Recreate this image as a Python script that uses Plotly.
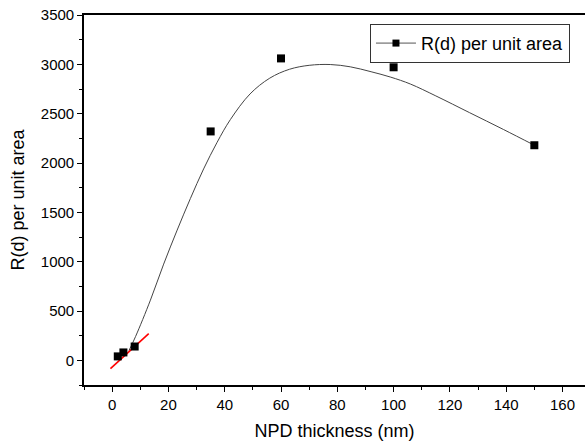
import plotly.graph_objects as go

# Measured data points
thickness_nm = [2, 4, 8, 35, 60, 100, 150]
r_per_area = [40, 80, 140, 2320, 3060, 2970, 2180]

# Fitted curve
fit_x = [6, 8.3, 13.6, 18.3, 23.1, 27.8, 32.5, 37.3, 42, 49, 56, 63, 70, 77.5, 84.6,
         92, 99, 106, 115, 127, 139, 150]
fit_y = [100, 240, 610, 975, 1320, 1640, 1940, 2210, 2440, 2700, 2860, 2950, 2990, 2998, 2975,
         2925, 2870, 2800, 2680, 2510, 2340, 2180]

# Linear fit at small thickness (red)
lin_x = [-0.6, 13]
lin_y = [-84, 271]

x_ticks = [0, 20, 40, 60, 80, 100, 120, 140, 160]
y_ticks = [0, 500, 1000, 1500, 2000, 2500, 3000, 3500]

FONT = "Liberation Sans, Arial, sans-serif"

fig = go.Figure()
fig.add_trace(go.Scatter(x=fit_x, y=fit_y, mode="lines",
                         line=dict(color="#444444", width=1, shape="spline", smoothing=1.0),
                         showlegend=False, hoverinfo="skip"))
fig.add_trace(go.Scatter(x=lin_x, y=lin_y, mode="lines",
                         line=dict(color="red", width=1.6),
                         showlegend=False, hoverinfo="skip"))
fig.add_trace(go.Scatter(x=thickness_nm, y=r_per_area, mode="markers",
                         marker=dict(symbol="square", size=8, color="black"),
                         showlegend=False))
# legend entry
fig.add_trace(go.Scatter(x=[None], y=[None], mode="lines+markers",
                         name="R(d) per unit area",
                         line=dict(color="#555555", width=1),
                         marker=dict(symbol="square", size=7, color="black")))

fig.update_layout(
    width=585, height=441,
    margin=dict(l=84, r=0, t=15, b=56),
    paper_bgcolor="white", plot_bgcolor="white",
    font=dict(family=FONT, size=15, color="black"),
    legend=dict(x=0.97, y=0.976, xanchor="right", yanchor="top",
                bgcolor="white", bordercolor="#333333", borderwidth=1,
                font=dict(size=18, family=FONT),
                itemwidth=40, tracegroupgap=0),
    xaxis=dict(range=[-10, 168], tickvals=x_ticks, ticks="outside", ticklen=5,
               tickwidth=1.3, tickcolor="black",
               minor=dict(dtick=10, tick0=0, ticks="outside", ticklen=3, tickcolor="black", tickwidth=1.2),
               showline=True, linecolor="black", linewidth=1.6, mirror=True,
               showgrid=False, zeroline=False,
               tickfont=dict(size=15),
               title=dict(text="NPD thickness (nm)", font=dict(size=18), standoff=17)),
    yaxis=dict(range=[-250, 3500], tickvals=y_ticks, ticks="outside", ticklen=5,
               tickwidth=1.3, tickcolor="black",
               minor=dict(dtick=250, tick0=0, ticks="outside", ticklen=3, tickcolor="black", tickwidth=1.2),
               showline=True, linecolor="black", linewidth=1.6, mirror=False,
               showgrid=False, zeroline=False,
               tickfont=dict(size=15),
               title=dict(text="R(d) per unit area", font=dict(size=18), standoff=12)),
)

fig.write_html("out.html")
